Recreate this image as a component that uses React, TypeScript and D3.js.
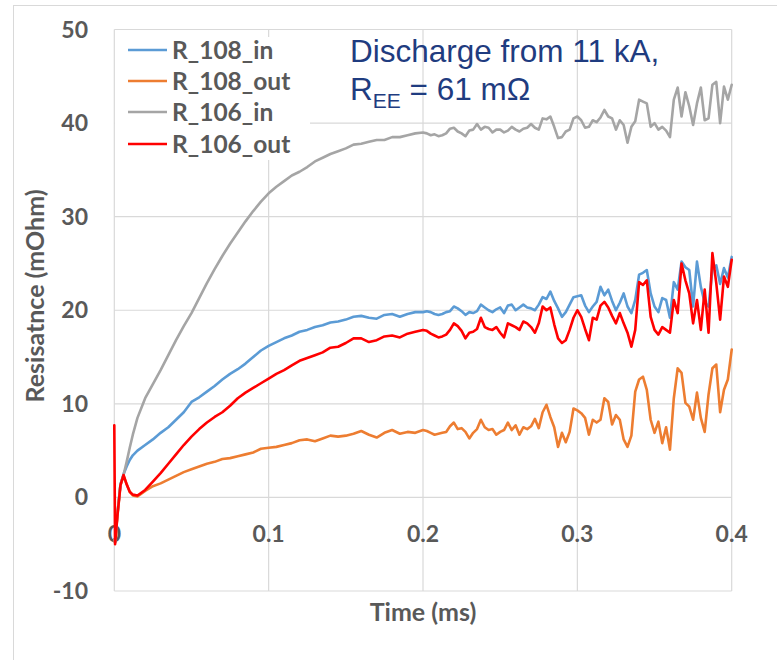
import React from "react";
import * as d3 from "d3";

// Time axis (ms): fine near the start of the discharge, then regular steps
const timeMs = [
  0, 0.0005, 0.002, 0.004, 0.006, 0.008, 0.01, 0.012, 0.015,
  0.02, 0.025, 0.03, 0.035, 0.04, 0.045, 0.05, 0.055, 0.06, 0.065, 0.07, 0.075, 0.08, 0.085, 0.09, 0.095,
  0.1, 0.105, 0.11, 0.115, 0.12, 0.125, 0.13, 0.135, 0.14, 0.145, 0.15, 0.155, 0.16, 0.165, 0.17, 0.175, 0.18, 0.185, 0.19, 0.195,
  0.2, 0.2025, 0.205, 0.2075, 0.21, 0.2125, 0.215, 0.2175, 0.22, 0.2225,
  0.225, 0.2275, 0.23, 0.2325, 0.235, 0.2375, 0.24, 0.2425, 0.245, 0.2475,
  0.25, 0.2525, 0.255, 0.2575, 0.26, 0.2625, 0.265, 0.2675, 0.27, 0.2725,
  0.275, 0.2775, 0.28, 0.2825, 0.285, 0.2875, 0.29, 0.2925, 0.295, 0.2975,
  0.3, 0.3025, 0.305, 0.3075, 0.31, 0.3125, 0.315, 0.3175, 0.32, 0.3225,
  0.325, 0.3275, 0.33, 0.3325, 0.335, 0.3375, 0.34, 0.3425, 0.345, 0.3475,
  0.35, 0.3525, 0.355, 0.3575, 0.36, 0.3625, 0.365, 0.3675, 0.37, 0.3725,
  0.375, 0.3775, 0.38, 0.3825, 0.385, 0.3875, 0.39, 0.3925, 0.395, 0.3975, 0.4,
];

// Resistance (mOhm) per series
const r108In = [
  -4.5, -4.8, -1.8, 1.4, 2.5, 3.3, 4.0, 4.5, 5.0,
  5.6, 6.2, 6.9, 7.5, 8.3, 9.1, 10.2, 10.7, 11.3, 11.9, 12.6, 13.2, 13.7, 14.3, 15.0, 15.7,
  16.2, 16.6, 17.0, 17.3, 17.7, 17.9, 18.2, 18.4, 18.7, 18.8, 19.0, 19.3, 19.4, 19.2, 19.1, 19.5, 19.6, 19.3, 19.6, 19.8,
  19.8, 19.9, 19.8, 19.6, 19.5, 19.6, 19.8, 19.9, 20.4, 20.2,
  19.9, 19.5, 19.8, 19.7, 19.9, 20.6, 20.3, 20.0, 19.8, 20.1,
  20.3, 19.7, 20.5, 20.6, 20.0, 20.3, 20.6, 20.3, 20.2, 20.0,
  20.6, 21.4, 21.2, 22.0, 21.0, 20.2, 19.3, 19.8, 20.6, 21.4,
  21.5, 21.6, 20.5, 19.8, 20.4, 20.9, 22.5, 21.6, 22.2, 21.0,
  20.0, 20.8, 21.8, 20.4, 19.7, 21.1, 23.8, 24.0, 24.3, 21.8,
  20.4, 19.8, 21.3, 21.1, 19.2, 23.0, 22.2, 25.2, 24.6, 24.3,
  20.4, 25.2, 22.5, 20.8, 20.4, 24.3, 24.8, 22.8, 24.5, 23.5, 25.7,
];

const r108Out = [
  -4.5, -4.8, -2.0, 1.3, 2.3, 1.4, 0.6, 0.2, 0.1,
  0.7, 1.2, 1.5, 1.9, 2.3, 2.7, 3.0, 3.3, 3.6, 3.8, 4.1, 4.2, 4.4, 4.6, 4.8, 5.2,
  5.3, 5.4, 5.6, 5.8, 6.1, 6.2, 6.0, 6.3, 6.6, 6.5, 6.6, 6.8, 7.1, 6.7, 6.4, 6.9, 7.2, 6.8, 7.0, 6.9,
  7.2, 7.1, 6.9, 6.7, 6.8, 6.9, 7.0, 7.6, 8.0, 7.3,
  7.4, 7.0, 6.3, 6.9, 7.3, 8.3, 7.5, 7.2, 7.3, 6.7,
  7.0, 7.2, 8.0, 7.2, 7.7, 6.7, 7.5, 7.3, 7.6, 8.4,
  7.4, 9.1, 9.9, 8.6, 7.5, 5.4, 6.9, 5.9, 7.0, 9.5,
  9.3, 9.0, 8.5, 6.7, 8.3, 8.0, 8.3, 10.6, 10.2, 7.8,
  8.8, 8.3, 6.2, 5.4, 6.6, 11.3, 12.6, 12.9, 11.5, 8.3,
  6.9, 8.1, 5.8, 7.5, 5.1, 10.6, 13.8, 13.3, 10.1, 9.7,
  8.3, 11.2, 8.5, 7.0, 11.0, 13.8, 14.2, 9.1, 11.5, 12.6, 15.8,
];

const r106In = [
  -4.5, -4.8, -1.8, 1.4, 2.4, 3.8, 5.3, 6.7, 8.5,
  10.6, 12.1, 13.6, 15.2, 16.8, 18.3, 19.7, 21.3, 22.9, 24.4, 25.8, 27.1, 28.3, 29.5, 30.6, 31.6,
  32.5, 33.2, 33.8, 34.4, 34.8, 35.3, 35.9, 36.3, 36.7, 37.0, 37.3, 37.7, 37.8, 38.0, 38.2, 38.2, 38.5, 38.5, 38.7, 38.9,
  39.0, 38.9, 38.7, 38.8, 38.6, 38.7, 38.9, 39.4, 39.5, 39.1,
  38.9, 38.6, 39.2, 39.3, 39.9, 39.3, 39.6, 39.5, 39.0, 39.3,
  39.3, 39.0, 39.2, 39.6, 39.3, 39.1, 39.4, 39.5, 39.9, 39.5,
  39.3, 40.5, 40.4, 40.7, 39.6, 38.4, 38.5, 39.1, 39.3, 40.5,
  40.7, 40.3, 39.5, 39.6, 40.3, 40.1, 40.6, 41.4, 40.7, 40.5,
  39.3, 40.3, 39.8, 37.9, 39.6, 40.2, 42.5, 42.3, 42.1, 39.6,
  40.0, 39.3, 39.6, 39.2, 38.5, 42.5, 43.8, 40.7, 43.3, 41.8,
  39.8, 42.1, 43.8, 40.3, 40.5, 44.1, 44.4, 40.0, 43.9, 42.5, 44.1,
];

const r106Out = [
  7.7, -5.0, -2.0, 1.3, 2.4, 1.4, 0.6, 0.3, 0.2,
  0.8, 1.7, 2.6, 3.6, 4.6, 5.6, 6.5, 7.3, 8.0, 8.6, 9.1, 9.8, 10.6, 11.2, 11.7, 12.2,
  12.7, 13.2, 13.6, 14.1, 14.6, 14.9, 15.2, 15.5, 16.0, 16.1, 16.5, 17.0, 17.0, 16.6, 16.8, 17.2, 17.3, 17.1, 17.5, 17.7,
  17.9, 17.8, 17.5, 17.3, 17.1, 17.2, 17.4, 17.9, 18.6, 18.3,
  17.8, 17.0, 17.6, 17.7, 18.0, 19.2, 18.2, 18.0, 17.9, 18.2,
  17.6, 17.1, 18.6, 18.4, 18.2, 17.9, 18.8, 18.6, 18.2, 17.6,
  18.6, 20.4, 20.0, 20.3, 18.5, 17.0, 16.5, 16.8, 17.9, 19.2,
  20.0, 19.3, 18.0, 16.8, 19.2, 19.0, 20.5, 20.9, 20.3, 19.4,
  18.6, 19.7, 18.6, 17.6, 16.1, 17.9, 23.0, 22.7, 23.2, 19.3,
  17.9, 17.4, 18.2, 17.9, 17.6, 21.1, 19.7, 25.0, 23.2, 21.8,
  18.6, 21.1, 17.9, 22.2, 17.6, 26.1, 22.9, 19.0, 23.6, 22.5, 25.4,
];

const seriesNames = ["R_108_in", "R_108_out", "R_106_in", "R_106_out"];
const seriesValues = [r108In, r108Out, r106In, r106Out];
const seriesColors = ["#5B9BD5", "#ED7D31", "#A5A5A5", "#FF0000"];

const xTicks = [0, 0.1, 0.2, 0.3, 0.4];
const yTicks = [-10, 0, 10, 20, 30, 40, 50];

const W = 777;
const H = 660;
const FONT = "Lato, Carlito, 'Open Sans', sans-serif";
const GRID = "#D9D9D9";
const LABEL = "#595959";

export default function App() {
  const x = d3.scaleLinear().domain([0, 0.4]).range([114.3, 731.7]);
  const y = d3.scaleLinear().domain([-10, 50]).range([591, 29.5]);

  const line = d3
    .line<number>()
    .x((_, i) => x(timeMs[i]))
    .y((v) => y(v));

  const legendRows = [50, 81, 112, 144];

  return (
    <div style={{ position: "absolute", left: 0, top: 0 }}>
      <svg width={W} height={H} style={{ display: "block", background: "#fff" }}>
        {/* outer chart frame */}
        <rect x={13.5} y={5.5} width={W} height={H} fill="#fff" stroke={GRID} strokeWidth={1} />

        {/* gridlines */}
        {yTicks.map((t) => (
          <line key={"gy" + t} x1={x(0)} x2={x(0.4)} y1={y(t)} y2={y(t)} stroke={GRID} strokeWidth={1.2} />
        ))}
        {xTicks.map((t) => (
          <line key={"gx" + t} x1={x(t)} x2={x(t)} y1={y(50)} y2={y(-10)} stroke={GRID} strokeWidth={1.2} />
        ))}

        {/* y tick labels */}
        {yTicks.map((t) => (
          <text
            key={"ty" + t}
            x={88}
            y={y(t) + 8}
            textAnchor="end"
            fontFamily={FONT}
            fontWeight={700}
            fontSize={23}
            fill={LABEL}
          >
            {t}
          </text>
        ))}

        {/* x tick labels (axis crosses at 0) */}
        {xTicks.map((t) => (
          <text
            key={"tx" + t}
            x={x(t)}
            y={y(0) + 45}
            textAnchor="middle"
            fontFamily={FONT}
            fontWeight={700}
            fontSize={23}
            fill={LABEL}
          >
            {t === 0 ? "0" : t.toFixed(1)}
          </text>
        ))}

        {/* axis titles */}
        <text
          x={(x(0) + x(0.4)) / 2}
          y={621}
          textAnchor="middle"
          fontFamily={FONT}
          fontWeight={700}
          fontSize={25}
          fill={LABEL}
        >
          Time (ms)
        </text>
        <text
          transform="translate(44, 296) rotate(-90)"
          textAnchor="middle"
          fontFamily={FONT}
          fontWeight={700}
          fontSize={25}
          fill={LABEL}
        >
          Resisatnce (mOhm)
        </text>

        {/* data series */}
        {seriesValues.map((vals, i) => (
          <path
            key={seriesNames[i]}
            d={line(vals) || ""}
            fill="none"
            stroke={seriesColors[i]}
            strokeWidth={2.6}
            strokeLinejoin="round"
            strokeLinecap="round"
          />
        ))}

        {/* legend */}
        <rect x={115} y={37} width={195} height={123} fill="#fff" />
        {seriesNames.map((name, i) => (
          <g key={"lg" + name}>
            <line
              x1={128}
              x2={167}
              y1={legendRows[i]}
              y2={legendRows[i]}
              stroke={seriesColors[i]}
              strokeWidth={2.6}
            />
            <text
              x={172}
              y={legendRows[i] + 8.5}
              fontFamily={FONT}
              fontWeight={700}
              fontSize={24.5}
              fill={LABEL}
            >
              {name}
            </text>
          </g>
        ))}

        {/* annotation */}
        <text x={350} y={62} fontFamily="'Liberation Sans', Arial, sans-serif" fontSize={31.5} fill="#1F3C80">
          Discharge from 11 kA,
        </text>
        <text x={350} y={100} fontFamily="'Liberation Sans', Arial, sans-serif" fontSize={31.5} fill="#1F3C80">
          R
          <tspan fontSize={21} dy={8}>
            EE
          </tspan>
          <tspan dy={-8}> = 61 mΩ</tspan>
        </text>
      </svg>
    </div>
  );
}
